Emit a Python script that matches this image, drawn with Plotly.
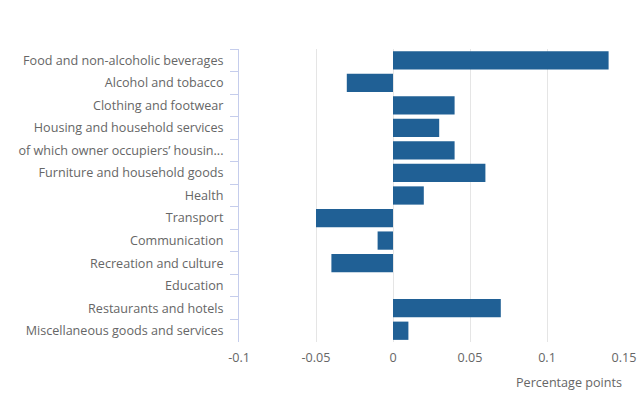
import plotly.graph_objects as go

categories = [
    "Food and non-alcoholic beverages",
    "Alcohol and tobacco",
    "Clothing and footwear",
    "Housing and household services",
    "of which owner occupiers’ housin...",
    "Furniture and household goods",
    "Health",
    "Transport",
    "Communication",
    "Recreation and culture",
    "Education",
    "Restaurants and hotels",
    "Miscellaneous goods and services",
]
values = [0.14, -0.03, 0.04, 0.03, 0.04, 0.06, 0.02, -0.05, -0.01, -0.04, 0.0, 0.07, 0.01]
x_ticks = [-0.1, -0.05, 0, 0.05, 0.1, 0.15]
x_tick_labels = ["-0.1", "-0.05", "0", "0.05", "0.1", "0.15"]

fig = go.Figure(go.Bar(
    x=values, y=categories, orientation="h",
    marker=dict(color="#206095", line=dict(width=0)),
))

fig.update_layout(
    width=641, height=396,
    margin=dict(l=239, r=17, t=49, b=54),
    plot_bgcolor="white", paper_bgcolor="white",
    font=dict(family="Open Sans", size=12.6, color="#666666"),
    bargap=0.19,
    showlegend=False,
    xaxis=dict(
        range=[-0.1, 0.15], tickvals=x_ticks, ticktext=x_tick_labels,
        showgrid=True, gridcolor="#e5e5e5", gridwidth=1,
        zeroline=False, showline=False, ticks="", ticklabelstandoff=6,
        ticklabeloverflow="allow", automargin=False,
    ),
    yaxis=dict(
        categoryorder="array", categoryarray=categories, autorange="reversed",
        showline=True, linecolor="#c5cdec", linewidth=1,
        ticks="outside", ticklen=8, tickcolor="#c5cdec", tickson="boundaries",
        showgrid=False, zeroline=False, ticklabelstandoff=12, automargin=False,
    ),
    annotations=[dict(
        text="Percentage points", xref="paper", yref="paper",
        x=1, y=0, xanchor="right", yanchor="top", yshift=-30,
        showarrow=False, font=dict(family="Open Sans", size=12.6, color="#666666"),
    )],
)

fig.write_html(
    "out.html",
    config={"displayModeBar": False},
    post_script="document.body.style.margin='0';document.body.style.overflow='hidden';",
)
